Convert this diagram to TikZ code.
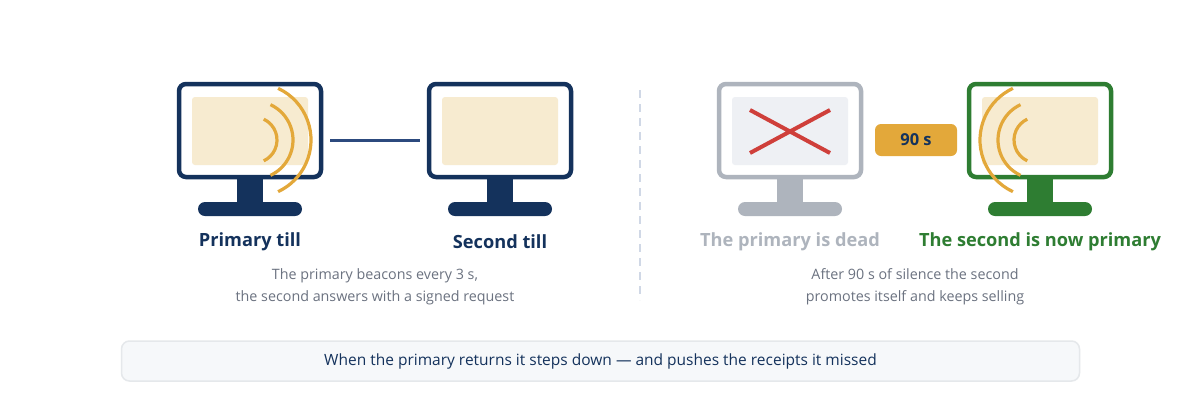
\documentclass[tikz,border=0pt]{standalone}
\usepackage{fontspec}
\setmainfont{Open Sans}
\begin{document}
\begin{tikzpicture}[x=1pt,y=-1pt,
  frame/.style={line width=4.5pt,rounded corners=7pt,fill=white},
  scr/.style={rounded corners=3pt},
  wave/.style={line width=3.2pt,draw=beam},
  lbl/.style={font=\bfseries\fontsize{18.2}{20}\selectfont},
  captxt/.style={font=\fontsize{14.3}{22}\selectfont,text=capc,align=center}]
\definecolor{navy}{HTML}{14325C}
\definecolor{scrf}{HTML}{F7EBD0}
\definecolor{beam}{HTML}{E3A83A}
\definecolor{grey}{HTML}{AEB4BD}
\definecolor{greyf}{HTML}{EEF0F4}
\definecolor{grn}{HTML}{2E7D32}
\definecolor{capc}{HTML}{6B7280}
\definecolor{xred}{HTML}{CF3F3A}
\definecolor{linec}{HTML}{2C4A7E}
\definecolor{divc}{HTML}{D0D8E6}
\useasboundingbox[fill=white] (0,0) rectangle (1200,400);
% monitor 1
\fill[navy] (237,176) rectangle (263,204);
\fill[navy,rounded corners=7pt] (198,202) rectangle (302,216);
\draw[frame,draw=navy] (179,84) rectangle (321,177);
\fill[scrf,scr] (192,97) rectangle (308,165);
\draw[wave] (254,140) ++(-65:23) arc (-65:65:23);
\draw[wave] (254,140) ++(-65:39) arc (-65:65:39);
\draw[wave] (254,140) ++(-65:57) arc (-65:65:57);
\node[lbl,text=navy] (l1) at (250,242) {Primary till};
% monitor 2
\fill[navy] (487,176) rectangle (513,204);
\fill[navy,rounded corners=7pt] (448,202) rectangle (552,216);
\draw[frame,draw=navy] (429,84) rectangle (571,177);
\fill[scrf,scr] (442,97) rectangle (558,165);
\node[lbl,text=navy] (l2) at (500,242) {Second till};
\coordinate (a) at (330,140); \coordinate (b) at (420,140);
\draw[linec,line width=3pt] (a) -- (b);
\node[captxt] (c1) at (375,287) {The primary beacons every 3 s,\\the second answers with a signed request};
% divider
\draw[divc,line width=2.5pt,dash pattern=on 8pt off 6pt] (640,90) -- (640,300);
% dead monitor
\fill[grey] (777,176) rectangle (803,204);
\fill[grey,rounded corners=7pt] (738,202) rectangle (842,216);
\draw[frame,draw=grey] (719,84) rectangle (861,177);
\fill[greyf,scr] (732,97) rectangle (848,165);
\draw[xred,line width=4pt] (750,110) -- (830,153) (750,153) -- (830,110);
\node[lbl,text=grey] (l3) at (790,242) {The primary is dead};
% badge
\node[fill=beam,rounded corners=6pt,minimum width=82pt,minimum height=32pt,text=navy,font=\bfseries\fontsize{16.5}{18}\selectfont] (badge) at (916,140) {90 s};
% green monitor
\fill[grn] (1027,176) rectangle (1053,204);
\fill[grn,rounded corners=7pt] (988,202) rectangle (1092,216);
\draw[frame,draw=grn] (969,84) rectangle (1111,177);
\fill[scrf,scr] (982,97) rectangle (1098,165);
\draw[wave] (1037,140) ++(115:23) arc (115:245:23);
\draw[wave] (1037,140) ++(115:39) arc (115:245:39);
\draw[wave] (1037,140) ++(115:57) arc (115:245:57);
\node[lbl,text=grn] (l4) at (1040,242) {The second is now primary};
\node[captxt] (c2) at (915,287) {After 90 s of silence the second\\promotes itself and keeps selling};
% bottom
\node[draw=greyf!60!grey!60,line width=1.5pt,fill=greyf!50,rounded corners=8pt,minimum width=958pt,minimum height=40pt,text=navy,font=\fontsize{15.5}{18}\selectfont] (note) at (600.5,361) {When the primary returns it steps down — and pushes the receipts it missed};
\end{tikzpicture}
\end{document}
